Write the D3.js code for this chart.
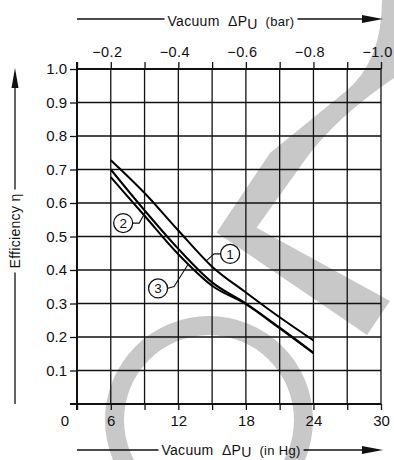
<!DOCTYPE html>
<html>
<head>
<meta charset="utf-8">
<script src="https://cdn.jsdelivr.net/npm/d3@7"></script>
<style>
  body { margin: 0; background: #fff; }
  svg { display: block; font-family: "Liberation Sans", Arial, Helvetica, sans-serif; }
</style>
</head>
<body>
<svg id="chart" width="394" height="460"></svg>
<script>
// vacuum in inHg where the curves were read
const vacuumHg = [6, 9, 12, 15, 18, 21, 24];
// efficiency of the three curves
const eta1 = [0.728, 0.630, 0.518, 0.410, 0.333, 0.259, 0.190];
const eta2 = [0.700, 0.578, 0.463, 0.363, 0.300, 0.228, 0.153];
const eta3 = [0.677, 0.562, 0.447, 0.353, 0.298, 0.226, 0.152];
const curveNames = ["1", "2", "3"];

// tick labels
const hgLabels = [6, 12, 18, 24, 30];
const barLabels = [-0.2, -0.4, -0.6, -0.8, -1.0];
const etaLabels = [0.1, 0.2, 0.3, 0.4, 0.5, 0.6, 0.7, 0.8, 0.9, 1.0];

// circled labels: label position and where the leader meets the curve (inHg)
const labelAt = [[16.6, 0.448], [7.1, 0.540], [10.2, 0.345]];
const labelHit = [14.5, 9.1, 12.9];

const svg = d3.select("#chart");

const x = d3.scaleLinear().domain([3, 30]).range([77, 381]);
const xBar = d3.scaleLinear().domain([-0.1, -1.0]).range([77, 381]);
const y = d3.scaleLinear().domain([0, 1]).range([404, 69]);

// light grey watermark in the background
const wm = svg.append("g").attr("fill", "#c8c8c8").attr("stroke", "none");
wm.append("path")
  .attr("d", d3.arc()({innerRadius: 85, outerRadius: 104, startAngle: -Math.PI * 0.75, endAngle: Math.PI * 0.75}))
  .attr("transform", "translate(209,420)");
wm.append("path")
  .attr("d", "M216.6,232.5 L367,335 L390,301 L256.6,227.7 L305,160 Q335,118 394,78 L394,0 L382,0 Q382,62 345,92 L270,153 Z");

// grid
const grid = svg.append("g").attr("stroke", "#111").attr("stroke-width", 1.3);
grid.selectAll("line.v").data(d3.range(6, 31, 3)).join("line")
  .attr("x1", d => x(d)).attr("x2", d => x(d))
  .attr("y1", y(0)).attr("y2", y(1));
grid.selectAll("line.h").data(etaLabels).join("line")
  .attr("x1", x(3)).attr("x2", x(30))
  .attr("y1", d => y(d)).attr("y2", d => y(d));

// axes
const fmt = d3.format(".1f");
const axB = svg.append("g").attr("transform", `translate(0,${y(0)})`)
  .call(d3.axisBottom(x).tickValues(d3.range(3, 31, 3)).tickSize(6).tickPadding(5)
    .tickFormat(d => hgLabels.includes(d) ? d : ""));
const axT = svg.append("g").attr("transform", `translate(0,${y(1)})`)
  .call(d3.axisTop(xBar).tickValues(d3.range(1, 11).map(d => -d / 10)).tickSize(7).tickPadding(5)
    .tickFormat(d => barLabels.some(b => Math.abs(b - d) < 1e-6) ? fmt(d) : ""));
const axL = svg.append("g").attr("transform", `translate(${x(3)},0)`)
  .call(d3.axisLeft(y).tickValues(etaLabels).tickSize(7).tickPadding(3).tickFormat(fmt));
[axB, axT, axL].forEach(g => {
  g.select(".domain").remove();
  g.selectAll(".tick line").attr("stroke", "#111").attr("stroke-width", 1.3);
  g.selectAll("text").attr("fill", "#111").attr("font-size", 15);
});
// the bar labels sit with their digits over the tick
axT.selectAll("text").attr("font-size", 14.5).attr("letter-spacing", 0.4).attr("dx", -4);

// zero label at the corner
svg.append("text").attr("x", 65).attr("y", y(0) + 22)
  .attr("text-anchor", "middle").attr("font-size", 15).attr("fill", "#111").text("0");

// axis lines
svg.append("line").attr("x1", 70).attr("x2", x(30)).attr("y1", y(0)).attr("y2", y(0))
  .attr("stroke", "#111").attr("stroke-width", 2);
svg.append("line").attr("x1", x(3)).attr("x2", x(30)).attr("y1", y(1)).attr("y2", y(1))
  .attr("stroke", "#111").attr("stroke-width", 2);
svg.append("line").attr("x1", x(3)).attr("x2", x(3)).attr("y1", y(1) - 7).attr("y2", y(0) + 6)
  .attr("stroke", "#111").attr("stroke-width", 2);

// curves
const series = [eta1, eta2, eta3];
const line = d3.line().x((d, i) => x(vacuumHg[i])).y(d => y(d)).curve(d3.curveMonotoneX);
svg.append("g").selectAll("path").data(series).join("path")
  .attr("d", line).attr("fill", "none").attr("stroke", "#000").attr("stroke-width", 2);

// circled labels
const valueAt = (s, v) => {
  const i = d3.bisectLeft(vacuumHg, v) - 1;
  const t = (v - vacuumHg[i]) / (vacuumHg[i + 1] - vacuumHg[i]);
  return s[i] + t * (s[i + 1] - s[i]);
};
const lab = svg.append("g");
curveNames.forEach((name, k) => {
  const cx = x(labelAt[k][0]), cy = y(labelAt[k][1]);
  const hx = x(labelHit[k]), hy = y(valueAt(series[k], labelHit[k]));
  const side = hx < cx ? -1 : 1;
  const ex = cx + side * 9;
  const mx = ex + side * 7;
  lab.append("path")
    .attr("d", `M${ex},${cy} L${mx},${cy - (k === 2 ? 2 : 0)} L${hx},${hy}`)
    .attr("fill", "none").attr("stroke", "#111").attr("stroke-width", 1.1);
  lab.append("circle").attr("cx", cx).attr("cy", cy).attr("r", 9.5)
    .attr("fill", "#fff").attr("stroke", "#111").attr("stroke-width", 1.3);
  lab.append("text").attr("x", cx).attr("y", cy + 5).attr("text-anchor", "middle")
    .attr("font-size", 13.5).attr("fill", "#111").text(name);
});

// arrow titles
function arrowTitle(g, text, sub, tail, cx, cy, base, x0, x1) {
  const t = g.append("text").attr("x", cx).attr("y", base).attr("text-anchor", "middle")
    .attr("font-size", 14).attr("letter-spacing", 0.3).attr("fill", "#111").attr("xml:space", "preserve");
  t.append("tspan").text(text);
  t.append("tspan").attr("dy", 2.5).text(sub);
  t.append("tspan").attr("dy", -2.5).attr("font-size", 13).text(tail);
  const w = t.node().getComputedTextLength();
  g.append("line").attr("x1", x0).attr("x2", cx - w / 2 - 3).attr("y1", cy).attr("y2", cy)
    .attr("stroke", "#111").attr("stroke-width", 1.3);
  g.append("line").attr("x1", cx + w / 2 + 3).attr("x2", x1 - 18).attr("y1", cy).attr("y2", cy)
    .attr("stroke", "#111").attr("stroke-width", 1.3);
  g.append("path").attr("d", `M${x1},${cy} L${x1 - 21},${cy - 4} L${x1 - 21},${cy + 4} Z`).attr("fill", "#111");
}
arrowTitle(svg.append("g"), "Vacuum  \u0394P", "U", "  (bar)", 231, 19, 26, x(3), 383);
arrowTitle(svg.append("g"), "Vacuum  \u0394P", "U", "  (in Hg)", 231, 450, 454.5, x(3), 383);

const yt = svg.append("g").attr("transform", "translate(15,231) rotate(-90)");
const ytText = yt.append("text").attr("x", 0).attr("y", 5).attr("text-anchor", "middle")
  .attr("font-size", 14).attr("letter-spacing", 0.3).attr("fill", "#111").text("Efficiency \u03b7");
const yw = ytText.node().getComputedTextLength();
yt.append("line").attr("x1", -173).attr("x2", -yw / 2 - 4).attr("y1", 0).attr("y2", 0)
  .attr("stroke", "#111").attr("stroke-width", 1.3);
yt.append("line").attr("x1", yw / 2 + 4).attr("x2", 145).attr("y1", 0).attr("y2", 0)
  .attr("stroke", "#111").attr("stroke-width", 1.3);
yt.append("path").attr("d", "M163,0 L143,-3.5 L143,3.5 Z").attr("fill", "#111");
</script>
</body>
</html>
